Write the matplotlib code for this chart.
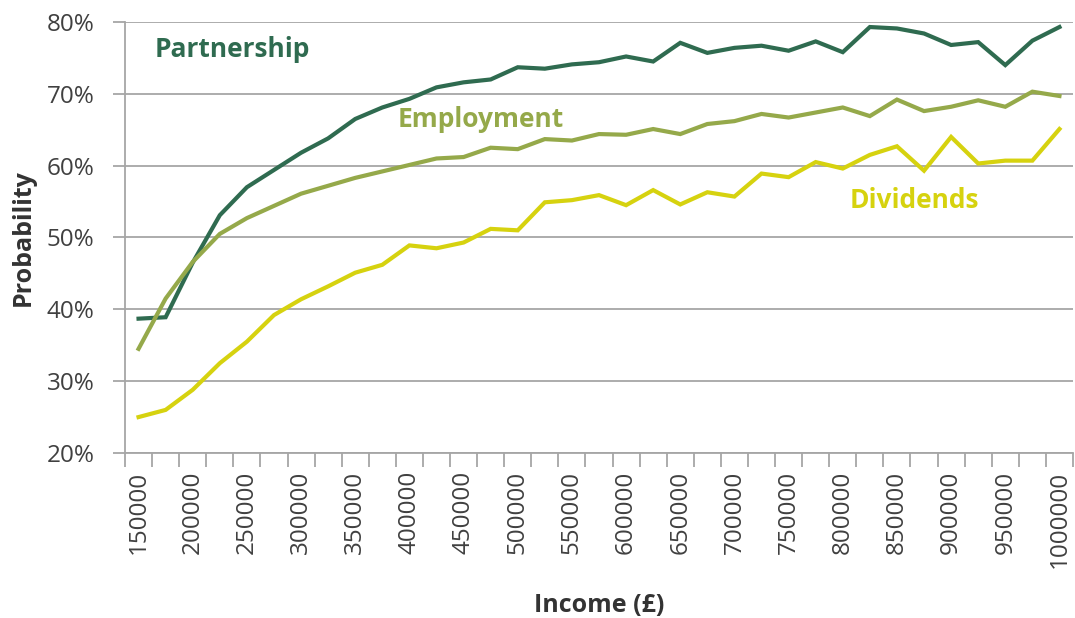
import matplotlib
matplotlib.use("Agg")
import matplotlib.pyplot as plt
import numpy as np

plt.rcParams['font.family'] = ['Open Sans', 'DejaVu Sans']

# income bands, 150000 to 1000000 in steps of 25000
incomes = list(range(150000, 1000001, 25000))

partnership = [38.7, 38.9, 46.5, 53.1, 57.0, 59.4, 61.8, 63.8, 66.5, 68.1,
               69.3, 70.9, 71.6, 72.0, 73.7, 73.5, 74.1, 74.4, 75.2, 74.5,
               77.1, 75.7, 76.4, 76.7, 76.0, 77.3, 75.8, 79.3, 79.1, 78.4,
               76.8, 77.2, 74.0, 77.4, 79.3]
employment = [34.5, 41.5, 46.6, 50.5, 52.7, 54.4, 56.1, 57.2, 58.3, 59.2,
              60.1, 61.0, 61.2, 62.5, 62.3, 63.7, 63.5, 64.4, 64.3, 65.1,
              64.4, 65.8, 66.2, 67.2, 66.7, 67.4, 68.1, 66.9, 69.2, 67.6,
              68.2, 69.1, 68.2, 70.3, 69.7]
dividends = [25.0, 26.0, 28.8, 32.5, 35.5, 39.2, 41.4, 43.2, 45.1, 46.2,
             48.9, 48.5, 49.3, 51.2, 51.0, 54.9, 55.2, 55.9, 54.5, 56.6,
             54.6, 56.3, 55.7, 58.9, 58.4, 60.5, 59.6, 61.5, 62.7, 59.3,
             64.0, 60.3, 60.7, 60.7, 65.1]

c_part = '#2f6b50'
c_emp = '#95a94a'
c_div = '#d6d20f'
grid_c = '#a6a6a6'
txt_c = '#404040'

fig = plt.figure(figsize=(10.75, 6.18), dpi=100)
ax = fig.add_axes([125/1075, (618-453)/618, (1073-125)/1075, (453-22)/618])

x = np.arange(len(incomes))
ax.plot(x, partnership, color=c_part, lw=3, solid_joinstyle='miter')
ax.plot(x, employment, color=c_emp, lw=3, solid_joinstyle='miter')
ax.plot(x, dividends, color=c_div, lw=3, solid_joinstyle='miter')

ax.set_xlim(-0.5, len(incomes) - 0.5)
ax.set_ylim(20, 80)
ax.set_yticks(np.arange(20, 81, 10))
ax.set_yticklabels(['%d%%' % v for v in range(20, 81, 10)], fontsize=17.5, color=txt_c)
ax.yaxis.grid(True, color=grid_c, lw=1.3)
ax.set_axisbelow(True)

# ticks between categories, labels on every other category
ax.set_xticks(np.arange(-0.5, len(incomes), 1))
ax.set_xticklabels([])
ax.set_xticks(x[::2], minor=True)
ax.set_xticklabels([str(v) for v in incomes[::2]], minor=True, rotation=90,
                   fontsize=17.5, color=txt_c)
ax.tick_params(axis='x', which='major', length=10, color=grid_c, width=1.3)
ax.tick_params(axis='x', which='minor', length=0, pad=13)
ax.tick_params(axis='y', length=9, color=grid_c, width=1.3, pad=13)

for s in ['top', 'right']:
    ax.spines[s].set_visible(False)
for s in ['left', 'bottom']:
    ax.spines[s].set_color(grid_c)
    ax.spines[s].set_linewidth(1.3)

ax.set_xlabel('Income (£)', fontsize=18, fontweight='bold', color='#333333', labelpad=18)
ax.set_ylabel('Probability', fontsize=18, fontweight='bold', color='#333333', labelpad=8)

ax.text(0.6, 75.15, 'Partnership', color=c_part, fontsize=19, fontweight='bold', va='baseline')
ax.text(9.56, 65.4, 'Employment', color=c_emp, fontsize=19, fontweight='bold', va='baseline')
ax.text(26.26, 54.1, 'Dividends', color=c_div, fontsize=19, fontweight='bold', va='baseline')

fig.savefig('out.png', dpi=100)
